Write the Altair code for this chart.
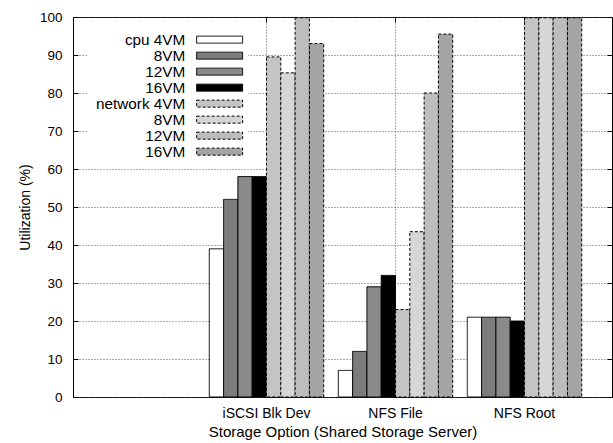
import altair as alt
import pandas as pd

# ---- data ----
slots = ["", "iSCSI Blk Dev", "NFS File", "NFS Root"]   # first slot is empty in the original
groups = ["iSCSI Blk Dev", "NFS File", "NFS Root"]
series = ["cpu 4VM", "cpu 8VM", "cpu 12VM", "cpu 16VM",
          "network 4VM", "network 8VM", "network 12VM", "network 16VM"]
legend_labels = ["cpu 4VM", "8VM", "12VM", "16VM", "network 4VM", "8VM", "12VM", "16VM"]

cpu_4vm = [39, 7, 21]
cpu_8vm = [52, 12, 21]
cpu_12vm = [58, 29, 21]
cpu_16vm = [58, 32, 20]
net_4vm = [89.5, 23, 99.8]
net_8vm = [85.3, 43.5, 99.8]
net_12vm = [99.8, 80, 99.8]
net_16vm = [93, 95.5, 99.8]
y_ticks = [0, 10, 20, 30, 40, 50, 60, 70, 80, 90, 100]

all_vals = [cpu_4vm, cpu_8vm, cpu_12vm, cpu_16vm, net_4vm, net_8vm, net_12vm, net_16vm]
rows = []
for gi, g in enumerate(groups):
    for s, vals in zip(series, all_vals):
        rows.append({"group": g, "series": s, "value": vals[gi]})
df = pd.DataFrame(rows)

# ---- styling ----
FONT = "Liberation Sans"
W, H = 539, 380
fills = ["#ffffff", "#7c7c7c", "#8a8a8a", "#000000",
         "#c4c4c4", "#d6d6d6", "#bdbdbd", "#a4a4a4"]
strokes = ["#000000"] * 8
dashes = [[1, 0], [1, 0], [1, 0], [1, 0], [3, 2], [3, 2], [3, 2], [3, 2]]

label_expr = "{}[indexof({}, datum.label)]".format(
    "[" + ",".join("'%s'" % l for l in legend_labels) + "]",
    "[" + ",".join("'%s'" % s for s in series) + "]")

legend = alt.Legend(
    title=None, orient="none", legendX=14, legendY=12,
    symbolType="M14.14,-0.5H20.71V0.5H14.14Z", symbolSize=196,
    symbolStrokeWidth=1,
    labelAlign="right", labelOffset=80, labelFont=FONT, labelFontSize=15.3,
    labelColor="black", labelExpr=label_expr, fillColor="white",
    padding=3, rowPadding={"expr": "-1.5"}, symbolLimit=0)

xscale = alt.Scale(domain=slots, paddingInner=0, paddingOuter=0.089, align=0)
yscale = alt.Scale(domain=[0, 100], nice=False)

base = alt.Chart(df)

bars = base.mark_bar(strokeWidth=1).encode(
    x=alt.X("group:N", scale=xscale, sort=slots,
            axis=alt.Axis(values=groups, title="Storage Option (Shared Storage Server)",
                          labelAngle=0, ticks=False, domain=False, grid=True,
                          gridDash=[1, 2], gridColor="#555", bandPosition=0.5,
                          labelFontSize=14, titleFontSize=15,
                          labelPadding=9, titlePadding=4)),
    xOffset=alt.XOffset("series:N", sort=series,
                        scale=alt.Scale(domain=series, paddingInner=0, paddingOuter=0.51)),
    y=alt.Y("value:Q", scale=yscale,
            axis=alt.Axis(values=y_ticks, title="Utilization (%)", ticks=False,
                          domain=False, grid=True, gridDash=[1, 2], gridColor="#555",
                          labelFontSize=13.5, titleFontSize=14,
                          labelPadding=11, titlePadding=7)),
    fill=alt.Fill("series:N", sort=series, scale=alt.Scale(domain=series, range=fills),
                  legend=legend),
    stroke=alt.Stroke("series:N", sort=series, scale=alt.Scale(domain=series, range=strokes),
                      legend=legend),
    strokeDash=alt.StrokeDash("series:N", sort=series,
                              scale=alt.Scale(domain=series, range=dashes), legend=legend),
)

tick_axis = dict(labels=False, domain=False, grid=False, ticks=True, tickSize=5,
                 tickColor="black", title=None)
yticks_left = base.mark_point(opacity=0).encode(
    y=alt.Y("value:Q", scale=yscale,
            axis=alt.Axis(orient="right", offset=-W, values=y_ticks, **tick_axis)))
yticks_right = base.mark_point(opacity=0).encode(
    y=alt.Y("value:Q", scale=yscale,
            axis=alt.Axis(orient="left", offset=-W, values=y_ticks, **tick_axis)))
xticks_bottom = base.mark_point(opacity=0).encode(
    x=alt.X("group:N", scale=xscale, sort=slots,
            axis=alt.Axis(orient="top", offset=-H, values=groups, bandPosition=0.5, **tick_axis)))
xticks_top = base.mark_point(opacity=0).encode(
    x=alt.X("group:N", scale=xscale, sort=slots,
            axis=alt.Axis(orient="bottom", offset=-H, values=groups, bandPosition=0.5, **tick_axis)))

chart = alt.layer(bars, yticks_left, yticks_right, xticks_bottom, xticks_top).resolve_axis(
    x="independent", y="independent"
).properties(
    width=W, height=H,
    padding={"left": 73, "top": 17, "right": 1, "bottom": 46},
    autosize=alt.AutoSizeParams(type="none"),
    background="white",
).configure_view(
    stroke="black", strokeWidth=1
).configure_axis(
    labelFont=FONT, labelColor="black",
    titleFont=FONT, titleFontWeight="normal", titleColor="black",
)

chart.save("out.html", embed_options={"renderer": "svg", "actions": False})
